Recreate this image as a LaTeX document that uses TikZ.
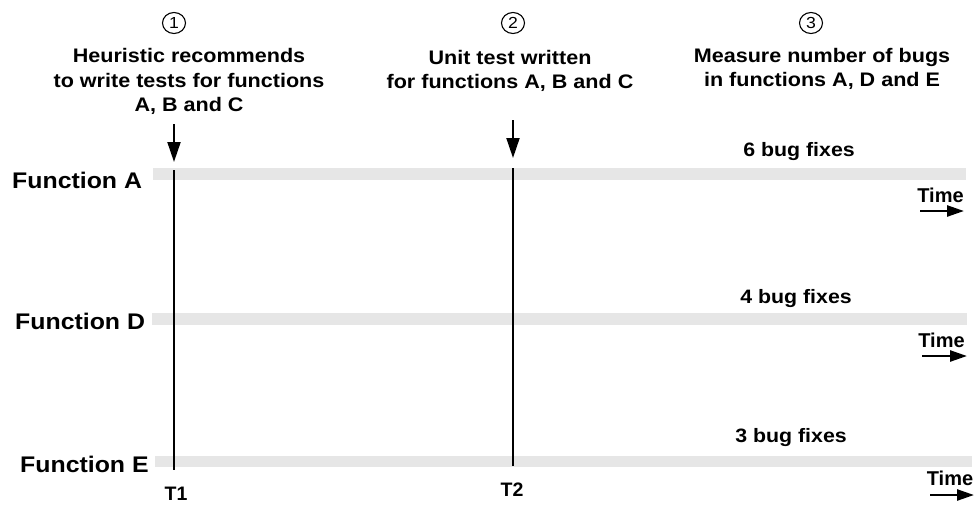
\documentclass[tikz,border=0pt]{standalone}
\usepackage{fontspec}
\setmainfont{Liberation Sans}
\newfontfamily\lab[FakeStretch=1.1]{Liberation Sans}
\usetikzlibrary{arrows.meta,shapes.geometric}
\definecolor{barg}{RGB}{230,230,230}
\begin{document}
\begin{tikzpicture}[x=1pt,y=-1pt,
  bar/.style={fill=barg, draw=none, inner sep=0pt, outer sep=0pt, anchor=north west},
  hdr/.style={align=center, font=\lab\bfseries\fontsize{19.6}{24.5}\selectfont, inner sep=0pt, text depth=0pt, anchor=south},
  fn/.style={font=\lab\bfseries\fontsize{22.6}{26}\selectfont, inner sep=0pt, anchor=base west},
  fix/.style={font=\lab\bfseries\fontsize{19.4}{22}\selectfont, inner sep=0pt, anchor=base},
  timel/.style={font=\bfseries\fontsize{20}{24}\selectfont, inner sep=0pt, anchor=base},
  tl/.style={font=\bfseries\fontsize{19.5}{22}\selectfont, inner sep=0pt, anchor=base},
  circ/.style={draw, ellipse, line width=1.1pt, minimum width=23pt, minimum height=21pt, inner sep=0pt,
    font=\lab\fontsize{16}{17}\selectfont},
  vline/.style={line width=2pt},
  down/.style={line width=2pt, -{Triangle[width=13pt,length=20pt]}},
  timearrow/.style={line width=2.5pt, -{Triangle[width=11pt,length=17pt]}}
]
\useasboundingbox (0,0) rectangle (974,504);
\fill[white] (0,0) rectangle (974,504);

% bars
\node[bar, minimum width=813pt, minimum height=12pt] (barA) at (153,168) {};
\node[bar, minimum width=815pt, minimum height=12pt] (barD) at (152,313) {};
\node[bar, minimum width=817pt, minimum height=11pt] (barE) at (155,456) {};

% function labels
\node[fn] (fA) at (12,188) {Function A};
\node[fn] (fD) at (15,329) {Function D};
\node[fn] (fE) at (20,472) {Function E};

% circled numbers
\node[circ] (c1) at (174,23) {1};
\node[circ] (c2) at (513,23) {2};
\node[circ] (c3) at (811,23) {3};

% headers
\node[hdr] (h1) at (189,112) {Heuristic recommends\\to write tests for functions\\A, B and C};
\node[hdr] (h2) at (510,89) {Unit test written\\for functions A, B and C};
\node[hdr] (h3) at (822,87) {Measure number of bugs\\in functions A, D and E};

% bug fix labels
\node[fix] (b6) at (799,156) {6 bug fixes};
\node[fix] (b4) at (796,303) {4 bug fixes};
\node[fix] (b3) at (791,442) {3 bug fixes};

% time labels and arrows
\node[timel] (tm1) at (940.5,202) {Time};
\node[timel] (tm2) at (941.5,347) {Time};
\node[timel] (tm3) at (950,485) {Time};
\coordinate (ta1s) at (920,211); \coordinate (ta1e) at (964,211);
\coordinate (ta2s) at (922,356); \coordinate (ta2e) at (967,356);
\coordinate (ta3s) at (930,495); \coordinate (ta3e) at (974,495);
\draw[timearrow] (ta1s) -- (ta1e);
\draw[timearrow] (ta2s) -- (ta2e);
\draw[timearrow] (ta3s) -- (ta3e);

% T labels and vertical lines
\node[tl] (T1) at (176,500) {T1};
\node[tl] (T2) at (512,496) {T2};
\coordinate (v1t) at (174,170); \coordinate (v1b) at (174,470);
\coordinate (v2t) at (513,168); \coordinate (v2b) at (513,466);
\draw[vline] (v1t) -- (v1b);
\draw[vline] (v2t) -- (v2b);

% down arrows
\coordinate (a1s) at (174,124); \coordinate (a1e) at (174,162);
\coordinate (a2s) at (513,120); \coordinate (a2e) at (513,158);
\draw[down] (a1s) -- (a1e);
\draw[down] (a2s) -- (a2e);
\end{tikzpicture}
\end{document}
